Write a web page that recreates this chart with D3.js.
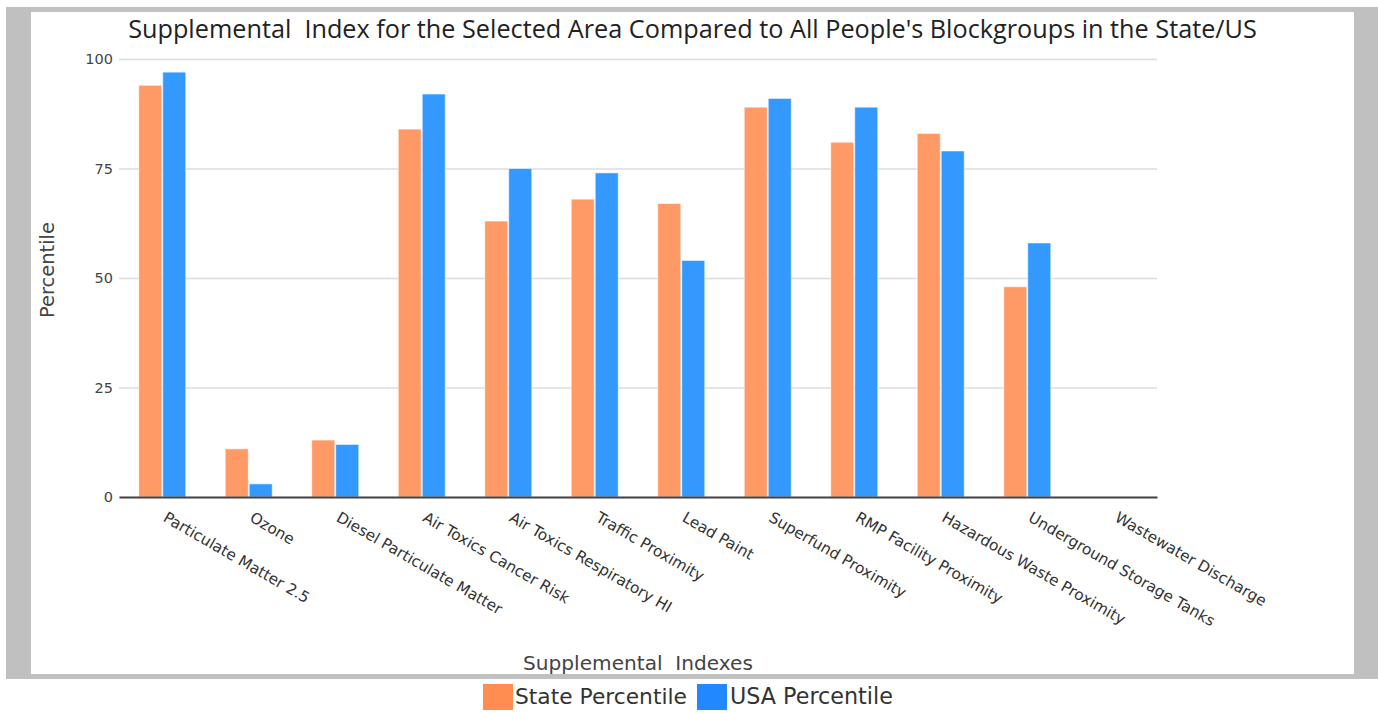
<!DOCTYPE html>
<html>
<head>
<meta charset="utf-8">
<script src="https://cdn.jsdelivr.net/npm/d3@7"></script>
<style>
  html, body { margin: 0; padding: 0; background: #fff; }
  svg { display: block; }
  text { white-space: pre; }
</style>
</head>
<body>
<svg id="chart" width="1378" height="713"></svg>
<script>
// ---- data ----
const categories = [
  "Particulate Matter 2.5", "Ozone", "Diesel Particulate Matter",
  "Air Toxics Cancer Risk", "Air Toxics Respiratory HI", "Traffic Proximity",
  "Lead Paint", "Superfund Proximity", "RMP Facility Proximity",
  "Hazardous Waste Proximity", "Underground Storage Tanks", "Wastewater Discharge"
];
const statePercentile = [94, 11, 13, 84, 63, 68, 67, 89, 81, 83, 48, null];
const usaPercentile   = [97, 3, 12, 92, 75, 74, 54, 91, 89, 79, 58, null];
const seriesNames = ["State Percentile", "USA Percentile"];
const yTicks = [0, 25, 50, 75, 100];
const chartTitle = "Supplemental  Index for the Selected Area Compared to All People's Blockgroups in the State/US";
const xTitle = "Supplemental  Indexes";
const yTitle = "Percentile";

// ---- layout ----
const W = 1378, H = 713;
const plot = { left: 119, right: 1157, top: 59, bottom: 497 };
const barColors = ["#FF9966", "#3399FF"];
const legendColors = ["#FF8C50", "#2288FF"];

const svg = d3.select("#chart");

// frame
svg.append("rect").attr("x", 6).attr("y", 7).attr("width", W - 6).attr("height", 672).attr("fill", "#c0c0c0");
svg.append("rect").attr("x", 31).attr("y", 12).attr("width", 1323).attr("height", 662).attr("fill", "#ffffff");

const x0 = d3.scaleBand().domain(categories).range([plot.left, plot.right])
  .paddingInner(0.4566).paddingOuter(0.2283);
const x1 = d3.scaleBand().domain(seriesNames).range([0, x0.bandwidth()]).paddingInner(0.04);
const y = d3.scaleLinear().domain([0, 100]).range([plot.bottom, plot.top]);

// gridlines
const yAxis = d3.axisLeft(y).tickValues(yTicks).tickSize(-(plot.right - plot.left)).tickPadding(6);
const gy = svg.append("g").attr("transform", `translate(${plot.left},0)`).call(yAxis);
gy.select(".domain").remove();
gy.selectAll(".tick line").attr("stroke", "#dcdcdc").attr("stroke-width", 1.5);
gy.selectAll(".tick text")
  .attr("font-family", "'DejaVu Sans', Verdana, sans-serif")
  .attr("font-size", 14.5).attr("fill", "#444");

// bars
const rows = categories.map((c, i) => ({ cat: c, vals: [statePercentile[i], usaPercentile[i]] }));
const groups = svg.append("g").selectAll("g").data(rows).join("g")
  .attr("transform", d => `translate(${x0(d.cat)},0)`);
groups.selectAll("rect")
  .data(d => d.vals.map((v, k) => ({ key: seriesNames[k], v, k })).filter(e => e.v != null))
  .join("rect")
  .attr("x", e => x1(e.key))
  .attr("width", x1.bandwidth())
  .attr("y", e => y(e.v))
  .attr("height", e => y(0) - y(e.v))
  .attr("fill", e => barColors[e.k])
  .attr("stroke", "rgba(255,255,255,0.55)")
  .attr("stroke-width", 1);

// zero line
const xAxis = d3.axisBottom(x0).tickSize(0).tickFormat("");
const gx = svg.append("g").attr("transform", `translate(0,${plot.bottom})`).call(xAxis);
gx.select(".domain").attr("stroke", "#444").attr("stroke-width", 2);

// x tick labels, rotated 30deg
svg.append("g").selectAll("text").data(categories).join("text")
  .attr("transform", d => `translate(${x0(d) + x0.bandwidth() / 2 + 6},510) rotate(30)`)
  .attr("dy", "0.8em")
  .attr("text-anchor", "start")
  .attr("font-family", "'DejaVu Sans', Verdana, sans-serif")
  .attr("font-size", 15.3)
  .attr("fill", "#333")
  .text(d => d);

function fit(sel, w) {
  const cur = sel.node().getComputedTextLength();
  const fs = parseFloat(sel.attr("font-size"));
  sel.attr("font-size", fs * w / cur);
}

// title
const t = svg.append("text").attr("x", 692.5).attr("y", 38).attr("text-anchor", "middle")
  .attr("font-family", "'Open Sans', sans-serif").attr("font-size", 22).attr("fill", "#222")
  .text(chartTitle);
fit(t, 1129);

// axis titles
const xt = svg.append("text").attr("x", (plot.left + plot.right) / 2).attr("y", 670)
  .attr("text-anchor", "middle").attr("font-family", "'DejaVu Sans', Verdana, sans-serif")
  .attr("font-size", 18).attr("fill", "#444").text(xTitle);
fit(xt, 230);
const yt = svg.append("text").attr("transform", "translate(54,270) rotate(-90)")
  .attr("text-anchor", "middle").attr("font-family", "'DejaVu Sans', Verdana, sans-serif")
  .attr("font-size", 18).attr("fill", "#444").text(yTitle);
fit(yt, 96);

// legend
const legendItems = [
  { name: seriesNames[0], sx: 483, tx: 515, tw: 172 },
  { name: seriesNames[1], sx: 697, tx: 730, tw: 163 }
];
const lg = svg.append("g");
legendItems.forEach((it, i) => {
  lg.append("rect").attr("x", it.sx).attr("y", 684).attr("width", 30).attr("height", 26)
    .attr("fill", legendColors[i]);
  const lt = lg.append("text").attr("x", it.tx).attr("y", 704)
    .attr("font-family", "'DejaVu Sans', Verdana, sans-serif").attr("font-size", 18)
    .attr("fill", "#333").text(it.name);
  fit(lt, it.tw);
});
</script>
</body>
</html>
